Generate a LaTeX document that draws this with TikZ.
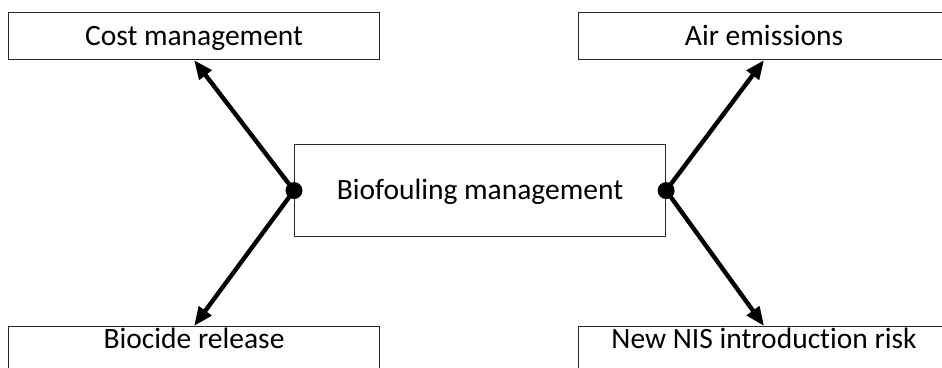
\documentclass[tikz,border=0pt]{standalone}
\usepackage{fontspec}
\setmainfont[Ligatures=NoCommon]{Carlito}
\usetikzlibrary{arrows.meta}
\begin{document}
\begin{tikzpicture}[x=1pt,y=-1pt,
  box/.style={draw=black!85, line width=1.1pt, minimum width=371pt,
    minimum height=47pt, inner sep=0pt, anchor=north west,
    text height=19pt, text depth=0pt,
    font=\fontsize{29.5}{34}\selectfont},
  label text/.style={inner sep=0pt, anchor=base, font=\fontsize{29.5}{34}\selectfont},
  link/.style={line width=4.4pt, -{Triangle[length=19pt,width=15pt]}},
  joint/.style={circle, fill=black, inner sep=0pt, minimum size=17pt}]
  \useasboundingbox (0,0) rectangle (942,367);
  \clip (0,0) rectangle (942,367);

  % outer boxes
  \node[box] (cost) at (8,12) {Cost management};
  \node[box] (air) at (578,12) {Air emissions};
  \node[box] (biocide) at (8,326) {};
  \node[box] (nis) at (578,326) {};
  \node[label text] (biocidetext) at ([yshift=-22.3pt]biocide.north) {Biocide release};
  \node[label text] (nistext) at ([yshift=-22.3pt]nis.north) {New NIS introduction risk};

  % central box
  \node[box, minimum height=92pt, text height=17pt] (bio) at (294,144) {Biofouling management};

  % connectors
  \coordinate (ljoint) at (bio.west);
  \coordinate (rjoint) at (bio.east);
  \draw[link] (ljoint) -- (cost.south);
  \draw[link] (ljoint) -- (biocide.north);
  \draw[link] (rjoint) -- (air.south);
  \draw[link] (rjoint) -- (nis.north);
  \node[joint] (ldot) at (ljoint) {};
  \node[joint] (rdot) at (rjoint) {};
\end{tikzpicture}
\end{document}
